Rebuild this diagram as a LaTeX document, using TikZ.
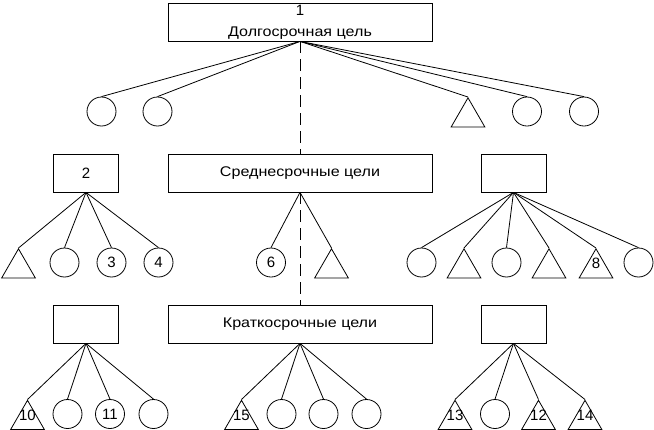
\documentclass[tikz,border=0pt]{standalone}
\usepackage{fontspec}
\setmainfont{Liberation Sans}
\newfontfamily\wordfont{Liberation Sans}[FakeStretch=1.15]
\usetikzlibrary{shapes.geometric}

\begin{document}
\begin{tikzpicture}[
  x=1pt,y=-1pt,
  every node/.style={font=\fontsize{15}{21}\selectfont,line width=0.8pt},
  box/.style={draw,minimum height=38pt,inner sep=1pt,align=center},
  goalbox/.style={box,minimum width=264pt},
  smallbox/.style={box,minimum width=65pt},
  leaf/.style={draw,circle,minimum size=29pt,inner sep=0pt},
  tri/.style={draw,regular polygon,regular polygon sides=3,minimum size=39pt,inner sep=0pt,anchor=north},
  trinum/.style={inner sep=0pt},
  link/.style={line width=0.8pt},
  guide/.style={line width=0.8pt,dash pattern=on 12pt off 6pt}
]
\useasboundingbox (0,0) rectangle (654,429);

% long-term goal
\node[goalbox] (goal) at (300,22) {1\\\fontsize{14}{14}\wordfont Долгосрочная цель};
\node[leaf] (g1) at (101.5,111.5) {};
\node[leaf] (g2) at (157.5,111.5) {};
\node[tri] (g3) at (468,97) {};
\node[leaf] (g4) at (527,111.5) {};
\node[leaf] (g5) at (584,111.5) {};

% medium-term goals
\node[smallbox] (mid2) at (86,173) {2};
\node[goalbox] (midmain) at (300,173) {\fontsize{14}{14}\wordfont Среднесрочные цели};
\node[smallbox] (midr) at (513.5,173) {};
\node[tri] (m1) at (18.5,248) {};
\node[leaf] (m2) at (64.5,262.5) {};
\node[leaf] (m3) at (111.5,262.5) {3};
\node[leaf] (m4) at (158.5,262.5) {4};
\node[leaf] (m5) at (271,262.5) {6};
\node[tri] (m6) at (331.5,248) {};
\node[leaf] (m7) at (421.5,262.5) {};
\node[tri] (m8) at (464,248) {};
\node[leaf] (m9) at (506.5,262.5) {};
\node[tri] (m10) at (549,248) {};
\node[tri] (m11) at (596,248) {};
\node[leaf] (m12) at (638.5,262.5) {};
\node[trinum] (n8) at ([yshift=4.5pt]m11.center) {8};

% short-term goals
\node[smallbox] (botl) at (86,324) {};
\node[goalbox] (botmain) at (300,324) {\fontsize{14}{14}\wordfont Краткосрочные цели};
\node[smallbox] (botr) at (513.5,324) {};
\node[tri] (b1) at (27.5,399.5) {};
\node[leaf] (b2) at (67.5,414) {};
\node[leaf] (b3) at (110,414) {11};
\node[leaf] (b4) at (153.5,414) {};
\node[tri] (b5) at (241.5,399.5) {};
\node[leaf] (b6) at (281.5,414) {};
\node[leaf] (b7) at (323.5,414) {};
\node[leaf] (b8) at (366.5,414) {};
\node[tri] (b9) at (455,399.5) {};
\node[leaf] (b10) at (495,414) {};
\node[tri] (b11) at (538.5,399.5) {};
\node[tri] (b12) at (585,399.5) {};
\node[trinum] (n10) at ([yshift=4.5pt]b1.center) {10};
\node[trinum] (n15) at ([yshift=4.5pt]b5.center) {15};
\node[trinum] (n13) at ([yshift=4.5pt]b9.center) {13};
\node[trinum] (n12) at ([yshift=4.5pt]b11.center) {12};
\node[trinum] (n14) at ([yshift=4.5pt]b12.center) {14};

\draw[guide] (goal.south) -- (midmain.north);
\draw[guide] (midmain.south) -- (botmain.north);

\draw[link] (goal.south) -- (g1.north);
\draw[link] (goal.south) -- (g2.north);
\draw[link] (goal.south) -- (g3.north);
\draw[link] (goal.south) -- (g4.north);
\draw[link] (goal.south) -- (g5.north);

\draw[link] (mid2.south) -- (m1.north);
\draw[link] (mid2.south) -- (m2.north);
\draw[link] (mid2.south) -- (m3.north);
\draw[link] (mid2.south) -- (m4.north);
\draw[link] (midmain.south) -- (m5.north);
\draw[link] (midmain.south) -- (m6.north);
\draw[link] (midr.south) -- (m7.north);
\draw[link] (midr.south) -- (m8.north);
\draw[link] (midr.south) -- (m9.north);
\draw[link] (midr.south) -- (m10.north);
\draw[link] (midr.south) -- (m11.north);
\draw[link] (midr.south) -- (m12.north);

\draw[link] (botl.south) -- (b1.north);
\draw[link] (botl.south) -- (b2.north);
\draw[link] (botl.south) -- (b3.north);
\draw[link] (botl.south) -- (b4.north);
\draw[link] (botmain.south) -- (b5.north);
\draw[link] (botmain.south) -- (b6.north);
\draw[link] (botmain.south) -- (b7.north);
\draw[link] (botmain.south) -- (b8.north);
\draw[link] (botr.south) -- (b9.north);
\draw[link] (botr.south) -- (b10.north);
\draw[link] (botr.south) -- (b11.north);
\draw[link] (botr.south) -- (b12.north);
\end{tikzpicture}
\end{document}
